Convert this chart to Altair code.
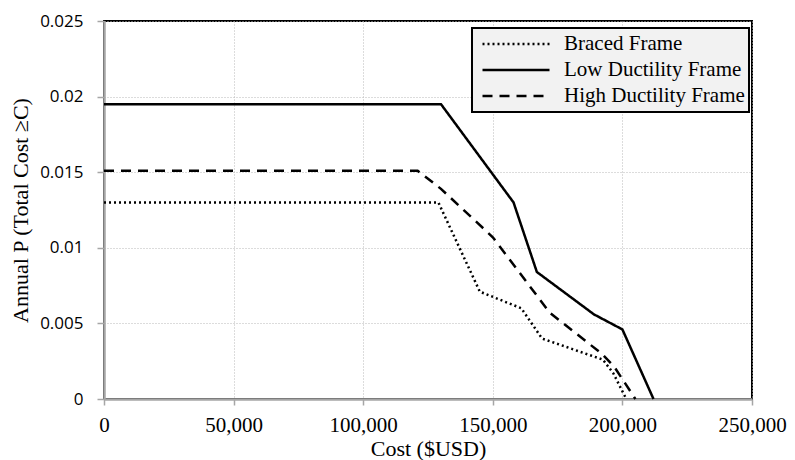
import altair as alt
import pandas as pd

# ---- data ----
series_names = ["Braced Frame", "Low Ductility Frame", "High Ductility Frame"]

cost_braced = [0, 129000, 145000, 161000, 169000, 192500, 196500, 201500]
p_braced = [0.013, 0.013, 0.0071, 0.0060, 0.0040, 0.0026, 0.0017, 0.0]

cost_low = [0, 130000, 158000, 167000, 189000, 200000, 212000]
p_low = [0.0195, 0.0195, 0.013, 0.0084, 0.0056, 0.0046, 0.0]

cost_high = [0, 121000, 130000, 150000, 172000, 192000, 197000, 205000]
p_high = [0.0151, 0.0151, 0.0139, 0.0107, 0.0057, 0.0030, 0.0021, 0.0]

x_ticks = [0, 50000, 100000, 150000, 200000, 250000]
y_ticks = [0, 0.005, 0.01, 0.015, 0.02, 0.025]

rows = []
for name, cs, ps in zip(series_names, [cost_braced, cost_low, cost_high], [p_braced, p_low, p_high]):
    for c, p in zip(cs, ps):
        rows.append({"series": name, "cost": c, "p": p})
df = pd.DataFrame(rows)

serif = "Liberation Serif"
sans = "Open Sans"

chart = (
    alt.Chart(df)
    .mark_line(color="black", strokeWidth=2.5, strokeCap="butt")
    .encode(
        x=alt.X(
            "cost:Q",
            scale=alt.Scale(domain=[0, 250000], nice=False, zero=False),
            axis=alt.Axis(
                values=x_ticks,
                format=",d",
                title="Cost ($USD)",
                labelFont=serif,
                labelFontSize=21,
                labelColor="black",
                labelPadding=9,
                labelFlush=False,
                labelOverlap=False,
                tickSize=6,
                titleFont=serif,
                titleFontSize=22,
                titleFontWeight="normal",
                titleColor="black",
                titlePadding=3,
            ),
        ),
        y=alt.Y(
            "p:Q",
            scale=alt.Scale(domain=[0, 0.025], nice=False, zero=False),
            axis=alt.Axis(
                values=y_ticks,
                format="~f",
                title="Annual P (Total Cost \u2265C)",
                labelFont=sans,
                labelFontSize=17,
                labelColor="black",
                labelPadding=14,
                labelFlush=False,
                labelOverlap=False,
                tickSize=7,
                titleFont=serif,
                titleFontSize=22,
                titleFontWeight="normal",
                titleColor="black",
                titlePadding=7,
            ),
        ),
        strokeDash=alt.StrokeDash(
            "series:N",
            scale=alt.Scale(domain=series_names, range=[[2, 3], [1, 0], [10, 7]]),
            legend=alt.Legend(
                title=None,
                orient="none",
                legendX=368,
                legendY=7,
                fillColor="#f2f2f2",
                strokeColor="black",
                padding=4,
                symbolSize=4489,
                symbolStrokeWidth=2.5,
                symbolStrokeColor="black",
                symbolOffset=5,
                clipHeight=24,
                rowPadding=2,
                labelOffset=13,
                labelFont=serif,
                labelFontSize=21,
                labelColor="black",
                labelLimit=400,
            ),
        ),
    )
    .properties(
        width=648,
        height=378,
        autosize=alt.AutoSizeParams(type="none"),
        padding={"left": 104, "top": 21, "right": 43, "bottom": 61},
    )
    .configure_view(stroke="black", strokeWidth=2)
    .configure_axis(
        domainColor="#a6a6a6",
        domainWidth=2.5,
        tickColor="#a6a6a6",
        tickWidth=1.5,
        gridColor="#b8b8b8",
        gridDash=[1, 2],
        gridWidth=1,
    )
    .configure_legend(strokeWidth=2)
)

chart.save("out.html", embed_options={"renderer": "svg", "actions": False})
